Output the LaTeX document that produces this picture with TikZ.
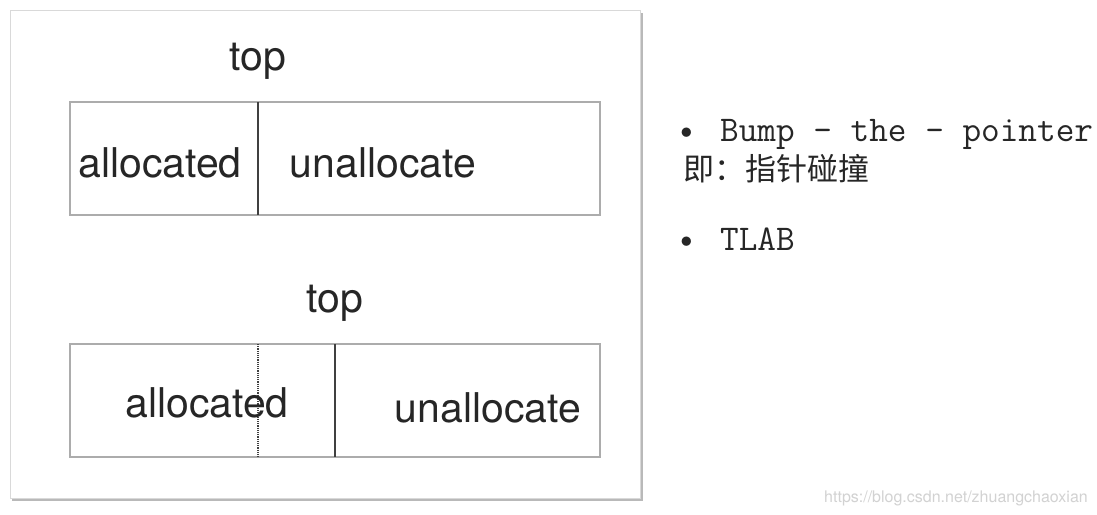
\documentclass[tikz,border=0pt]{standalone}
\usepackage{fontspec}
\setmainfont{TeX Gyre Heros}
\newfontfamily\cjk{Noto Sans CJK SC}
\usetikzlibrary{positioning}

\begin{document}
\begin{tikzpicture}[x=1pt, y=-1pt,
		lbl/.style={font=\fontsize{41}{41}\selectfont, text=black!85, anchor=base, inner sep=0},
		note/.style={font=\fontsize{36.2}{36.2}\selectfont\ttfamily, text=black!85, anchor=base west, inner sep=0},
		wall/.style={draw=gray!65, line width=1.6},
		split/.style={draw=black!75, line width=1.6}]
		
		\useasboundingbox[fill=white] (0,0) rectangle (1097,514);
		
		\fill[gray!55] (12,13) rectangle (643,501);
		\filldraw[fill=white, draw=gray!30] (10,10) rectangle (640,498);
		
		\draw[wall] (70,102) rectangle (600,215);
		\draw[split] (258,102) -- (258,215);
		
		\draw[wall] (70,344) rectangle (600,457);
		\draw[black!75, line width=1.2, densely dotted] (258,344) -- (258,457);
		\draw[split] (335,344) -- (335,457);
		
		\node[lbl] (top1) at (258,70) {top};
		\node[lbl] (alloc1) at (160,177) {allocated};
		\node[lbl] (free1) at (383,177) {unallocate};
		
		\node[lbl] (top2) at (335,312) {top};
		\node[lbl] (alloc2) at (207,417) {allocated};
		\node[lbl] (free2) at (488,422) {unallocate};
		
		\node[note] (dot1) at (677,141) {\textbullet};
		\node[note] (bump) at (720,141) {Bump - the - pointer};
		\node[note, font=\fontsize{31}{31}\selectfont\cjk] (bumpcn) at (683,180) {即：指针碰撞};
		\node[note] (dot2) at (677,250) {\textbullet};
		\node[note] (tlab) at (720,250) {TLAB};
		
		\node[font=\fontsize{16}{16}\selectfont, text=gray!35, anchor=base east, inner sep=0] (mark) at (1088,502) {https://blog.csdn.net/zhuangchaoxian};
		
	\end{tikzpicture}
\end{document}
